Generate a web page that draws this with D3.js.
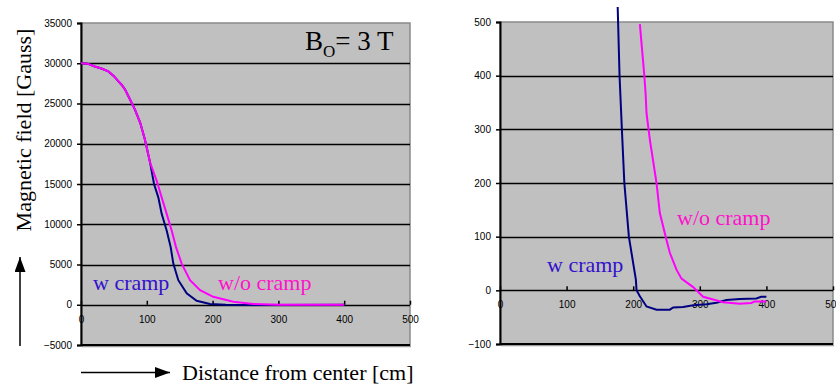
<!DOCTYPE html>
<html>
<head>
<meta charset="utf-8">
<script src="https://cdn.jsdelivr.net/npm/d3@7"></script>
<style>
  body { margin: 0; background: #fff; }
  svg { display: block; }
  .tick text { font-family: "Liberation Sans", Arial, sans-serif; font-size: 10px; fill: #000; }
  .serif { font-family: "Liberation Serif", "Times New Roman", serif; }
</style>
</head>
<body>
<svg id="chart" width="836" height="387"></svg>
<script>
// full range view: distance [cm] vs field [Gauss]
const fullWithCramp = [
  [0, 30000], [10, 29950], [21, 29600], [31, 29350], [41.5, 28990], [50, 28400], [57, 27750],
  [62, 27300], [67, 26730], [74.5, 25500], [82, 24250], [90, 22600], [97, 20550],
  [105, 17660], [111, 15000], [117.5, 13340], [122.6, 11290], [130.2, 9225], [136.3, 7160],
  [140.3, 5110], [147.9, 3050], [160.6, 1410], [175.8, 500], [196, 90], [220, 0],
  [260, -30], [400, -15]
]
const fullWithoutCramp = [
  [0, 30000], [10, 29950], [21, 29600], [31, 29350], [41.5, 28990], [50, 28400], [57, 27750],
  [62, 27300], [67, 26730], [74.5, 25500], [82, 24250], [90, 22600], [97, 20550],
  [105, 17660], [115, 15400], [122.6, 13340], [130.2, 11290], [137.8, 9225], [144.4, 7160],
  [153, 5110], [165.7, 3050], [181, 1815], [201, 990], [231.5, 370], [262, 90],
  [300, 10], [400, 0]
]

// zoomed view near zero
const zoomWithCramp = [
  [176.7, 528], [179.5, 400], [183, 300], [186.7, 200], [193.5, 100], [204, 20],
  [205, 0], [210, -11], [220, -30], [235, -36], [255, -36], [260, -32], [275, -31],
  [290, -28], [310, -26], [325, -23], [340, -18], [360, -16], [385, -15], [392, -12],
  [400, -12]
]
const zoomWithoutCramp = [
  [210, 496], [216.7, 400], [218.7, 365], [220, 330], [225, 281], [235, 200],
  [240, 144], [250, 94], [255, 70], [265, 38.5], [272.5, 21.8], [290, 6], [305, -12],
  [320, -17], [335, -22], [360, -25], [377.5, -23.5], [382, -21], [400, -21]
]

const xTicks = [0, 100, 200, 300, 400, 500]
const fullYTicks = [-5000, 0, 5000, 10000, 15000, 20000, 25000, 30000, 35000]
const zoomYTicks = [-100, 0, 100, 200, 300, 400, 500]

const colWith = '#000080', colWithout = '#ff00ff'
const txtWith = '#3311cc', txtWithout = '#ff10cc'

const svg = d3.select('#chart')

svg.append('defs').append('marker')
  .attr('id', 'arrow').attr('viewBox', '0 0 15 11')
  .attr('refX', 15).attr('refY', 5.5)
  .attr('markerWidth', 15).attr('markerHeight', 11)
  .attr('markerUnits', 'userSpaceOnUse')
  .attr('orient', 'auto')
  .append('path').attr('d', 'M0,0L15,5.5L0,11Z').attr('fill', '#000')

function drawPanel (conf) {
  const x = d3.scaleLinear().domain([0, 500]).range(conf.xRange)
  const y = d3.scaleLinear().domain(conf.yDomain).range(conf.yRange)
  const g = svg.append('g')
  const [x0, x1] = conf.xRange, [yb, yt] = conf.yRange

  // plot area
  g.append('rect')
    .attr('x', x0).attr('y', yt).attr('width', x1 - x0).attr('height', yb - yt)
    .attr('fill', '#c0c0c0').attr('stroke', '#8a8a8a').attr('stroke-width', 1.5)
  g.append('line').attr('x1', x0 + 1).attr('x2', x1 + 1).attr('y1', yb + 1.5).attr('y2', yb + 1.5)
    .attr('stroke', '#9a9a9a').attr('stroke-width', 1.5)

  // gridlines
  g.selectAll('.grid').data(conf.yTicks.filter(d => d > conf.yDomain[0] && d < conf.yDomain[1]))
    .join('line')
    .attr('x1', x0).attr('x2', x1)
    .attr('y1', d => Math.round(y(d)) + 0.5).attr('y2', d => Math.round(y(d)) + 0.5)
    .attr('stroke', '#000').attr('stroke-width', 1.6)

  // y axis
  const yAxis = d3.axisLeft(y).tickValues(conf.yTicks).tickFormat(d3.format('d'))
    .tickSize(4).tickPadding(5)
  const ya = g.append('g').attr('transform', `translate(${x0},0)`).call(yAxis)
  ya.select('.domain').attr('stroke-width', 2)
  ya.selectAll('.tick line').attr('stroke-width', 1.5)
  // bottom edge
  g.append('line').attr('x1', x0).attr('x2', x1).attr('y1', yb).attr('y2', yb)
    .attr('stroke', '#000').attr('stroke-width', 2)

  // x axis on zero line, ticks pointing up, labels below
  const xAxis = d3.axisBottom(x).tickValues(xTicks).tickSize(-4).tickPadding(11)
  const xa = g.append('g').attr('transform', `translate(0,${y(0)})`).call(xAxis)
  xa.select('.domain').remove()
  xa.selectAll('.tick line').attr('stroke-width', 1.5)

  const line = d3.line().x(d => x(d[0])).y(d => y(d[1]))
  g.append('path').datum(conf.withCramp).attr('d', line)
    .attr('fill', 'none').attr('stroke', colWith).attr('stroke-width', 2)
  g.append('path').datum(conf.withoutCramp).attr('d', line)
    .attr('fill', 'none').attr('stroke', colWithout).attr('stroke-width', 2)

  g.append('text').attr('class', 'serif').attr('x', conf.wLabel[0]).attr('y', conf.wLabel[1])
    .attr('font-size', 22).attr('fill', txtWith).text('w cramp')
  g.append('text').attr('class', 'serif').attr('x', conf.woLabel[0]).attr('y', conf.woLabel[1])
    .attr('font-size', 22).attr('fill', txtWithout).text('w/o cramp')
}

drawPanel({
  xRange: [81, 410], yRange: [345, 23], yDomain: [-5000, 35000], yTicks: fullYTicks,
  withCramp: fullWithCramp, withoutCramp: fullWithoutCramp,
  wLabel: [93, 290], woLabel: [218, 290]
})

drawPanel({
  xRange: [500, 833], yRange: [344, 22], yDomain: [-100, 500], yTicks: zoomYTicks,
  withCramp: zoomWithCramp, withoutCramp: zoomWithoutCramp,
  wLabel: [547, 272], woLabel: [677, 225]
})

// B0 = 3 T
const bt = svg.append('text').attr('class', 'serif').attr('x', 305).attr('y', 50)
  .attr('font-size', 27).attr('fill', '#000')
bt.append('tspan').text('B')
bt.append('tspan').attr('font-size', 17).attr('dy', 7).text('O')
bt.append('tspan').attr('dy', -7).text('= 3 T')

// axis titles
svg.append('text').attr('class', 'serif')
  .attr('transform', 'translate(31,130) rotate(-90)')
  .attr('text-anchor', 'middle').attr('font-size', 22).text('Magnetic field [Gauss]')
svg.append('text').attr('class', 'serif').attr('x', 182).attr('y', 380)
  .attr('font-size', 22).text('Distance from center [cm]')

// arrows
svg.append('line').attr('x1', 20).attr('x2', 20).attr('y1', 346).attr('y2', 257)
  .attr('stroke', '#000').attr('stroke-width', 1.5).attr('marker-end', 'url(#arrow)')
svg.append('line').attr('x1', 81).attr('x2', 170).attr('y1', 372.5).attr('y2', 372.5)
  .attr('stroke', '#000').attr('stroke-width', 1.5).attr('marker-end', 'url(#arrow)')
</script>
</body>
</html>
